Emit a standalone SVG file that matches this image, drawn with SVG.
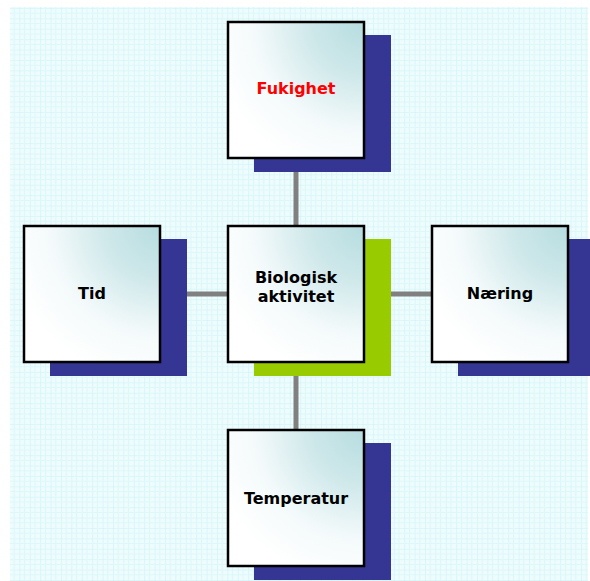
<svg xmlns="http://www.w3.org/2000/svg" width="590" height="581" viewBox="0 0 590 581">
<defs>
<pattern id="grid" x="9" y="8" width="10.4" height="10.4" patternUnits="userSpaceOnUse">
<rect width="10.4" height="10.4" fill="#eefcfd"/>
<path d="M0 0H10.4M0 0V10.4" stroke="#c6f2f6" stroke-width="1" fill="none"/>
<path d="M0 5.2H10.4M5.2 0V10.4" stroke="#dcf8fa" stroke-width="1" fill="none"/>
</pattern>
<radialGradient id="boxfill" cx="1" cy="0" r="1.15" gradientUnits="objectBoundingBox">
<stop offset="0" stop-color="#b6dde0"/>
<stop offset="0.35" stop-color="#cfe8ea"/>
<stop offset="0.7" stop-color="#f4fafb"/>
<stop offset="1" stop-color="#ffffff"/>
</radialGradient>
</defs>
<style>
.box{fill:url(#boxfill);stroke:#000;stroke-width:2.5}
.sh{fill:#353594}
.shg{fill:#99cc00}
.lbl{font-family:"DejaVu Sans",Verdana,sans-serif;font-weight:bold;font-size:16px;text-anchor:middle;fill:#000}
.conn{stroke:#808080;stroke-width:5;fill:none}
</style>
<rect x="0" y="0" width="590" height="581" fill="#fff"/>
<rect x="10" y="7" width="578" height="574" fill="url(#grid)"/>
<g id="connectors">
<line class="conn" x1="296" y1="172" x2="296" y2="226"/>
<line class="conn" x1="296" y1="376" x2="296" y2="430"/>
<line class="conn" x1="187" y1="294" x2="227" y2="294"/>
<line class="conn" x1="391" y1="294" x2="431" y2="294"/>
</g>
<g id="fukighet">
<rect class="sh" x="254" y="35" width="137" height="137"/>
<rect class="box" x="228" y="22" width="136" height="136"/>
<text class="lbl" x="296" y="94" fill="#ff0000" style="fill:#ff0000">Fukighet</text>
</g>
<g id="biologisk">
<rect class="shg" x="254" y="239" width="137" height="137"/>
<rect class="box" x="228" y="226" width="136" height="136"/>
<text class="lbl" x="296" y="283">Biologisk</text>
<text class="lbl" x="296" y="302">aktivitet</text>
</g>
<g id="tid">
<rect class="sh" x="50" y="239" width="137" height="137"/>
<rect class="box" x="24" y="226" width="136" height="136"/>
<text class="lbl" x="92" y="299">Tid</text>
</g>
<g id="naering">
<rect class="sh" x="458" y="239" width="137" height="137"/>
<rect class="box" x="432" y="226" width="136" height="136"/>
<text class="lbl" x="500" y="299">Næring</text>
</g>
<g id="temperatur">
<rect class="sh" x="254" y="443" width="137" height="137"/>
<rect class="box" x="228" y="430" width="136" height="136"/>
<text class="lbl" x="296" y="504">Temperatur</text>
</g>
</svg>
